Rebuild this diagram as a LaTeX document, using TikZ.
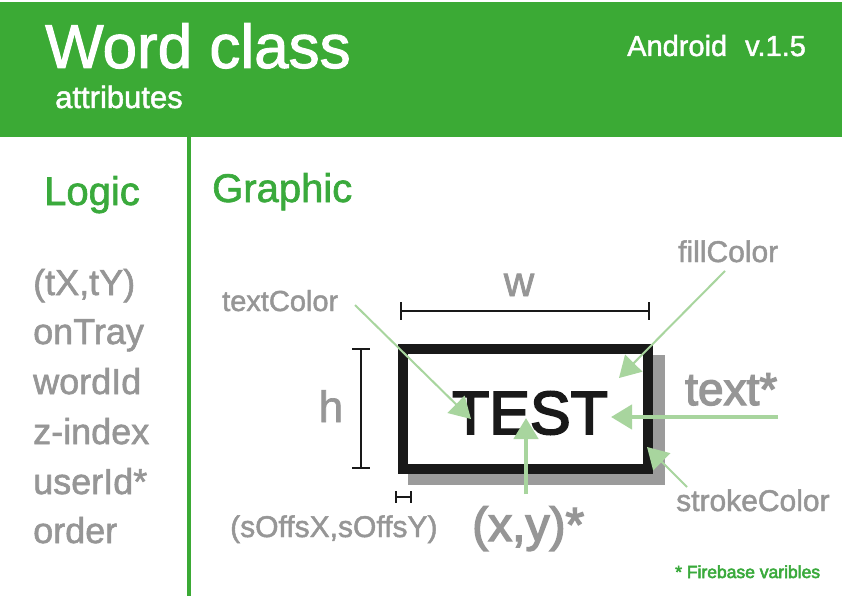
\documentclass[tikz,border=0pt]{standalone}
\usepackage{fontspec}
\setmainfont{Liberation Sans}[FakeBold=1.6]
\newfontfamily\heavyfont{Liberation Sans}[FakeBold=3]
\usetikzlibrary{arrows.meta}
\definecolor{hdrgreen}{RGB}{59,170,53}
\definecolor{txtgreen}{RGB}{58,170,60}
\definecolor{lblgray}{RGB}{150,150,150}
\definecolor{arrgreen}{RGB}{168,213,158}
\definecolor{shadowgray}{RGB}{155,155,155}
\definecolor{inkblack}{RGB}{25,25,25}
\newcommand{\fs}[1]{\fontsize{#1}{#1}\selectfont}
\tikzset{
  lbl/.style={inner sep=0pt, anchor=base west, text=lblgray},
  pointer/.style={draw=arrgreen, line width=2pt, -{Triangle[length=21pt,width=24pt]}, arrgreen},
  thickpointer/.style={pointer, line width=4.5pt},
  dimline/.style={draw=inkblack, line width=2pt},
}
\begin{document}
\begin{tikzpicture}[x=1pt,y=-1pt]
\useasboundingbox (0,0) rectangle (842,596);
\fill[white] (0,0) rectangle (842,596);
% header
\fill[hdrgreen] (0,2) rectangle (842,137);
\node[inner sep=0pt, anchor=base west, text=white] (title) at (45,68) {\fs{62}Word class};
\node[inner sep=0pt, anchor=base west, text=white] (sub) at (55,108) {\fs{31}attributes};
\node[inner sep=0pt, anchor=base west, text=white] (ver) at (627,56) {\fs{29}Android\hspace{18pt}v.1.5};
% divider
\draw[hdrgreen, line width=3.5pt] (189,137) -- (189,596);
% section titles
\node[inner sep=0pt, anchor=base west, text=txtgreen] (logic) at (44,205) {\fs{40}Logic};
\node[inner sep=0pt, anchor=base west, text=txtgreen] (graphic) at (212,202) {\fs{40}Graphic};
% logic list
\node[lbl] (l1) at (33,295) {\fs{36}(tX,tY)};
\node[lbl] (l2) at (33,344) {\fs{36}onTray};
\node[lbl] (l3) at (33,394) {\fs{36}wordId};
\node[lbl] (l4) at (33,444) {\fs{36}z-index};
\node[lbl] (l5) at (33,494) {\fs{36}userId*};
\node[lbl] (l6) at (33,543) {\fs{36}order};
% word box
\fill[shadowgray] (408,355) rectangle (665,485);
\draw[inkblack, line width=10pt, fill=white] (403,349) rectangle (648,469);
\node[inner sep=0pt, anchor=base, text=inkblack] (test) at (530,434) {\heavyfont\fs{61}TEST};
% w dimension
\draw[dimline] (401,311) -- (649,311);
\draw[dimline] (401,302) -- (401,320);
\draw[dimline] (649,302) -- (649,320);
\node[inner sep=0pt, anchor=base, text=lblgray] (w) at (519,296) {\fs{42}w};
% h dimension
\draw[dimline] (361,349) -- (361,468);
\draw[dimline] (352,349) -- (370,349);
\draw[dimline] (352,468) -- (370,468);
\node[inner sep=0pt, anchor=base, text=lblgray] (h) at (331,422) {\fs{44}h};
% shadow offset dimension
\draw[dimline] (396,497) -- (411,497);
\draw[dimline] (396,491) -- (396,503);
\draw[dimline] (411,491) -- (411,503);
% labels
\node[lbl] (tc) at (222,311) {\fs{29}textColor};
\node[lbl] (fc) at (678,262) {\fs{30}fillColor};
\node[lbl] (tx) at (685,405) {\heavyfont\fs{46}text*};
\node[lbl] (sc) at (676,511) {\fs{30}strokeColor};
\node[lbl] (so) at (230,537) {\fs{30}(sOffsX,sOffsY)};
\node[lbl] (xy) at (472,541) {\heavyfont\fs{48}(x,y)*};
\node[inner sep=0pt, anchor=base west, text=txtgreen] (fb) at (675,578) {\heavyfont\fs{17.5}* Firebase varibles};
% pointer coordinates
\coordinate (tcS) at (355,305);
\coordinate (tcE) at (471,419);
\coordinate (fcS) at (725,271);
\coordinate (fcE) at (619,378);
\coordinate (txS) at (778,417);
\coordinate (txE) at (611,417);
\coordinate (xyS) at (526,494);
\coordinate (xyE) at (526,418);
\coordinate (scS) at (687,487);
\coordinate (scE) at (647,447);
\draw[pointer] (tcS) -- (tcE);
\draw[pointer] (fcS) -- (fcE);
\draw[thickpointer] (txS) -- (txE);
\draw[thickpointer] (xyS) -- (xyE);
\draw[pointer] (scS) -- (scE);
\end{tikzpicture}
\end{document}
